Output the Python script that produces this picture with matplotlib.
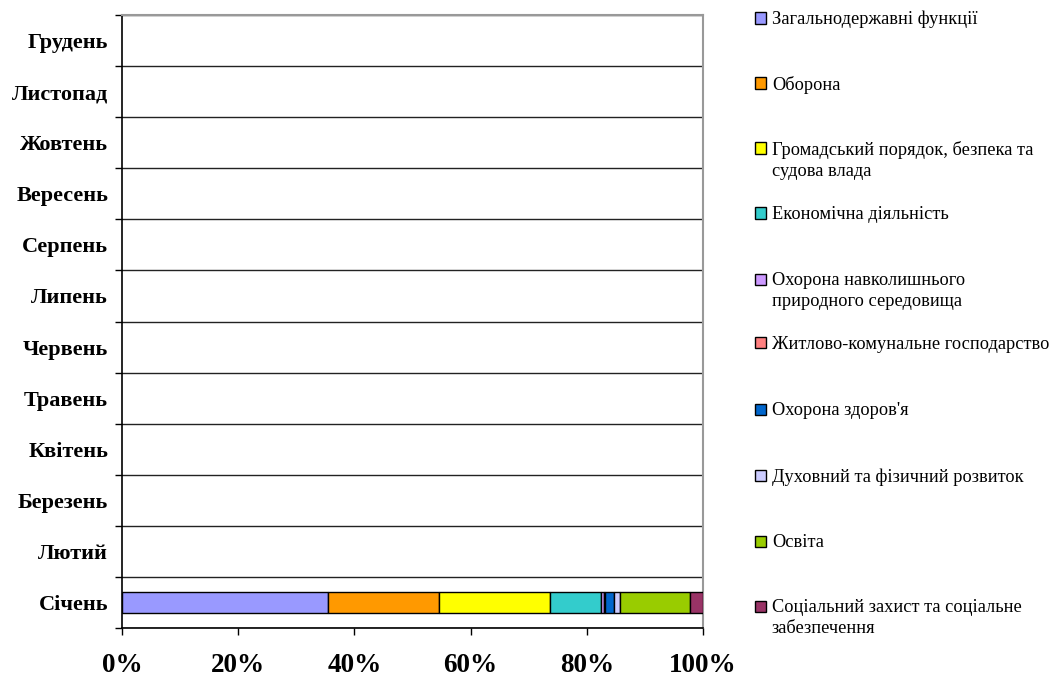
import matplotlib
matplotlib.use("Agg")
import matplotlib.pyplot as plt
from matplotlib.patches import Rectangle
import numpy as np

months = ["Січень", "Лютий", "Березень", "Квітень", "Травень", "Червень",
          "Липень", "Серпень", "Вересень", "Жовтень", "Листопад", "Грудень"]
categories = ["Загальнодержавні функції", "Оборона",
              "Громадський порядок, безпека та\nсудова влада",
              "Економічна діяльність",
              "Охорона навколишнього\nприродного середовища",
              "Житлово-комунальне господарство",
              "Охорона здоров'я", "Духовний та фізичний розвиток", "Освіта",
              "Соціальний захист та соціальне\nзабезпечення"]
colors = ["#9999FF", "#FF9900", "#FFFF00", "#33CCCC", "#CC99FF",
          "#FF8080", "#0066CC", "#CCCCFF", "#99CC00", "#993366"]
# share (%) for January only; other months have no data
january = [35.5, 19.0, 19.1, 8.8, 0.5, 0.2, 1.6, 1.1, 12.0, 2.2]
xticklabels = ["0%", "20%", "40%", "60%", "80%", "100%"]

plt.rcParams['font.family'] = ['Liberation Serif', 'DejaVu Serif']

fig = plt.figure(figsize=(10.53, 6.79), dpi=100)
ax = fig.add_axes([122/1053, 1-628/679, (703-122)/1053, (628-15)/679])

y = np.arange(len(months))
vals = np.zeros((len(categories), len(months)))
vals[:, 0] = january
left = np.zeros(len(months))
for i, c in enumerate(categories):
    m = vals[i] > 0
    ax.barh(y[m], vals[i][m], left=left[m], height=0.4, color=colors[i],
            edgecolor="black", linewidth=1.0, zorder=3)
    left += vals[i]

ax.set_xlim(0, 100)
ax.set_ylim(-0.5, len(months)-0.5)
ax.set_yticks(y)
ax.set_yticklabels(months, fontsize=16, fontweight="bold")
ax.set_yticks(np.arange(-0.5, len(months)), minor=True)
ax.tick_params(axis="y", which="major", length=0, pad=10)
ax.tick_params(axis="y", which="minor", length=5, width=1, color="black")
ax.set_xticks(np.linspace(0, 100, 6))
ax.set_xticklabels(xticklabels, fontsize=19.5, fontweight="bold")
ax.tick_params(axis="x", length=5, width=1, pad=13)
ax.grid(axis="y", which="minor", color="#222222", linewidth=1.0, zorder=1)
for s in ["top", "right"]:
    ax.spines[s].set_color("#999999")
    ax.spines[s].set_linewidth(1.5)
ax.spines["left"].set_linewidth(1.2)
ax.spines["bottom"].set_linewidth(1.2)

# legend (manual layout)
ys = [18, 83, 148, 213, 279, 343, 409, 475, 541, 606]
for cat, col, yy in zip(categories, colors, ys):
    fig.patches.append(Rectangle((755/1053, 1-(yy+5.5)/679), 11/1053, 11/679,
                                 transform=fig.transFigure, facecolor=col,
                                 edgecolor="black", linewidth=1.0))
    fig.text(772/1053, 1-(yy-7)/679, cat, fontsize=13.2, va="top", ha="left",
             linespacing=1.3)

fig.savefig("out.png", dpi=100)
